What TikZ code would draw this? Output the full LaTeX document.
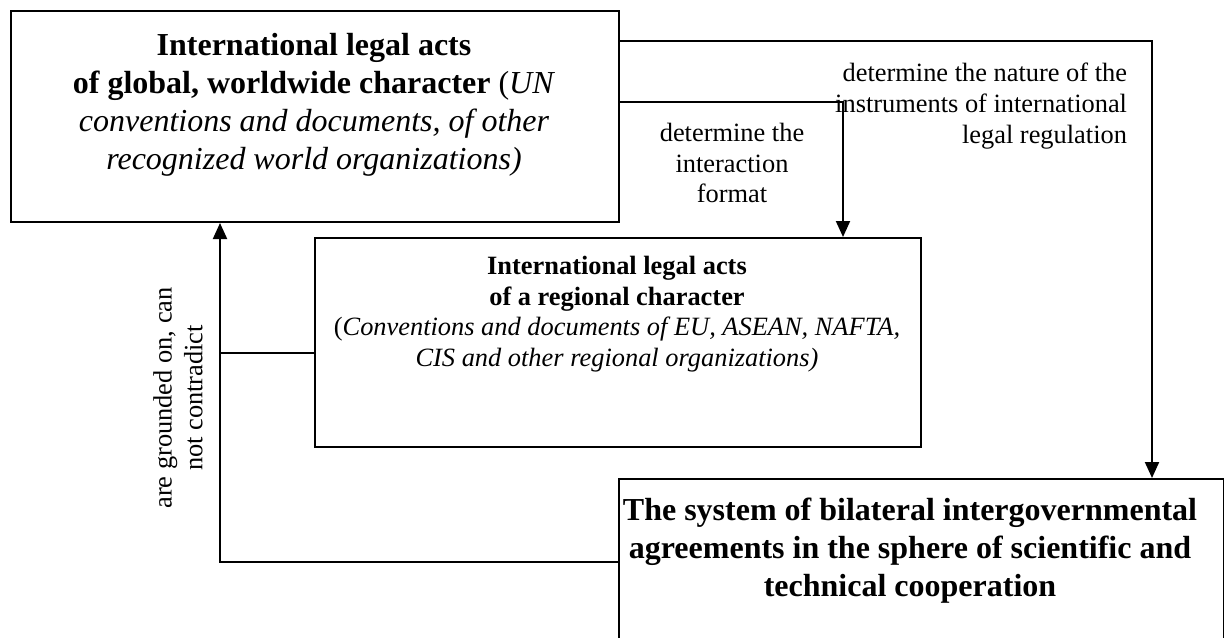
\documentclass[tikz,border=0pt]{standalone}
\usepackage{fontspec}
\setmainfont{Liberation Serif}
\usetikzlibrary{arrows.meta}
\tikzset{every picture/.style={line width=1pt}}
\tikzset{
  box/.style={draw, inner sep=0pt, anchor=north west},
  bigtext/.style={font=\fontsize{16}{19}\selectfont, align=center, inner sep=0pt, anchor=north},
  smalltext/.style={font=\fontsize{13.2}{15.4}\selectfont, align=center, inner sep=0pt},
  arr/.style={-{Triangle[width=7pt,length=8pt]}},
}

\begin{document}
\begin{tikzpicture}[x=0.5pt,y=-0.5pt]
\clip (0,0) rectangle (1224,637);
% boxes
\node[box, minimum width=304pt, minimum height=105.5pt] (global) at (10,10) {};
\node[box, minimum width=303pt, minimum height=104.5pt] (regional) at (314,237) {};
\node[box, minimum width=302.5pt, minimum height=95pt] (system) at (618,478) {};
%
\node[bigtext] (globaltext) at (314,32) {\textbf{International legal acts}\\
  \textbf{of global, worldwide character} (\textit{UN}\\
  \textit{conventions and documents, of other}\\
  \textit{recognized world organizations)}};
\node[smalltext, anchor=north] (regionaltext) at (617,255) {\textbf{International legal acts}\\
  \textbf{of a regional character}\\
  (\textit{Conventions and documents of EU, ASEAN, NAFTA,}\\
  \textit{CIS and other regional organizations)}};
\node[bigtext] (systemtext) at (910,497) {\textbf{The system of bilateral intergovernmental}\\
  \textbf{agreements in the sphere of scientific and}\\
  \textbf{technical cooperation}};
%
% turning points
\coordinate (natureturn) at (1152,41);
\coordinate (formatturn) at (843,102);
\coordinate (groundturn) at (220,562);
\coordinate (groundjoin) at (220,353);
%
\foreach \Source/\Turn/\Target in {%
        global.east |- natureturn/natureturn/system.north -| natureturn,
        global.east |- formatturn/formatturn/regional.north -| formatturn,
        system.west |- groundturn/groundturn/global.south -| groundturn%
    }
\draw[arr] (\Source) -- (\Turn) -- (\Target);
\draw (regional.west |- groundjoin) -- (groundjoin);
%
% labels
\node[smalltext, align=right, anchor=north east] (naturelabel) at (1128,62) {determine the nature of the\\
  instruments of international\\
  legal regulation};
\node[smalltext, anchor=north] (formatlabel) at (732,122) {determine the\\
  interaction\\
  format};
\node[smalltext, rotate=90] (groundlabel) at (178,398) {are grounded on, can\\
  not contradict};
\end{tikzpicture}
\end{document}
